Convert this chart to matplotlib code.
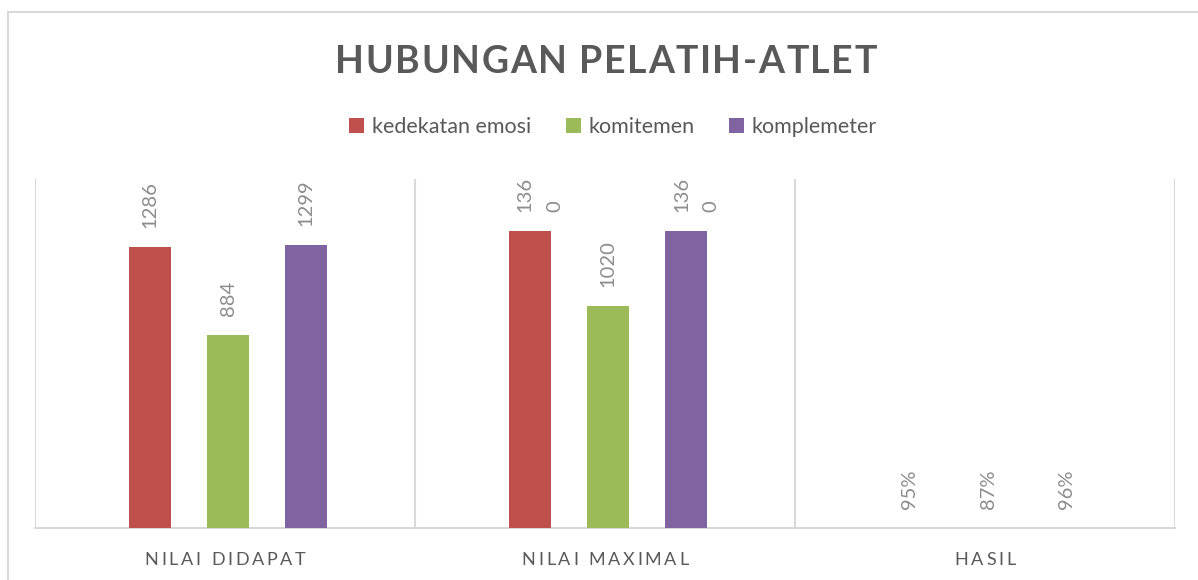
import matplotlib
matplotlib.use("Agg")
import matplotlib.pyplot as plt
from matplotlib.patches import Patch, Rectangle

categories = ["NILAI DIDAPAT", "NILAI MAXIMAL", "HASIL"]
series_names = ["kedekatan emosi", "komitemen", "komplemeter"]
kedekatan = [1286, 1360, 0.95]
komitemen = [884, 1020, 0.87]
komplemeter = [1299, 1360, 0.96]
value_labels = [["1286", "136\n0", "95%"],
                ["884", "1020", "87%"],
                ["1299", "136\n0", "96%"]]
colors = ["#C0504D", "#9BBB59", "#8064A2"]

FONT = ["Lato", "DejaVu Sans"]
TXT = "#595959"

fig = plt.figure(figsize=(11.98, 5.80), dpi=100)
W, H = 1198, 580
renderer = fig.canvas.get_renderer()


def spaced_text(xc_px, yc_px, s, tracking, **kw):
    """Draw text centred at (xc_px, yc_px) (pixels from top-left) with letter spacing."""
    widths = []
    for ch in s:
        t = fig.text(0, 0, ch if ch != " " else "I", **kw)
        wpx = t.get_window_extent(renderer).width
        if ch == " ":
            t2 = fig.text(0, 0, "I I", **kw)
            wpx = t2.get_window_extent(renderer).width - 2 * wpx
            t2.remove()
        t.remove()
        widths.append(wpx)
    total = sum(widths) + tracking * (len(s) - 1)
    x = xc_px - total / 2
    for ch, wpx in zip(s, widths):
        if ch != " ":
            fig.text(x / W, 1 - yc_px / H, ch, ha="left", va="center", **kw)
        x += wpx + tracking


# outer chart border
fig.add_artist(Rectangle((8 / W, -0.05), 1.2, (580 - 12) / H + 0.05,
                         transform=fig.transFigure, fill=False,
                         edgecolor="#D9D9D9", linewidth=1.5))

ax = fig.add_axes([35 / W, (H - 528) / H, (1175 - 35) / W, (528 - 179) / H])
ax.set_xlim(-0.5, 2.5)
ax.set_ylim(0, 1600)

series = [kedekatan, komitemen, komplemeter]
offsets = [-0.198, 0.008, 0.214]
width = 0.111
for s, vals in enumerate(series):
    xs = [i + offsets[s] for i in range(len(categories))]
    ax.bar(xs, vals, width=width, color=colors[s], zorder=3)
    for i, v in enumerate(vals):
        lbl = value_labels[s][i]
        dx = 10 if "\n" in lbl else 0
        ax.annotate(lbl, xy=(xs[i], v), xytext=(dx, 19),
                    textcoords="offset pixels",
                    rotation=90, ha="center", va="bottom",
                    multialignment="left", fontsize=14.5, color="#8C8C8C",
                    family=FONT, linespacing=1.9)

for xb in [-0.5, 0.5, 1.5, 2.5]:
    ax.axvline(xb, color="#D9D9D9", linewidth=1.5, zorder=1)
for sp in ["top", "left", "right"]:
    ax.spines[sp].set_visible(False)
ax.spines["bottom"].set_color("#D9D9D9")
ax.spines["bottom"].set_linewidth(1.5)
ax.set_yticks([])
ax.set_xticks([])

for i, c in enumerate(categories):
    xc = 35 + (i + 0.5) * (1175 - 35) / 3
    spaced_text(xc, 560, c, 2.8, fontsize=13, color=TXT, family=FONT)

spaced_text(606, 62, "HUBUNGAN PELATIH-ATLET", 1.6, fontsize=27,
            fontweight="bold", color=TXT, family=FONT)

handles = [Patch(facecolor=c, edgecolor="none") for c in colors]
fig.legend(handles, series_names, loc="center", bbox_to_anchor=(613 / W, 1 - 127 / H),
           ncol=3, frameon=False, prop={"family": FONT, "size": 15.5},
           labelcolor=TXT, handlelength=0.7, handleheight=0.7,
           handletextpad=0.35, columnspacing=1.6)

fig.savefig("out.png", dpi=100)
